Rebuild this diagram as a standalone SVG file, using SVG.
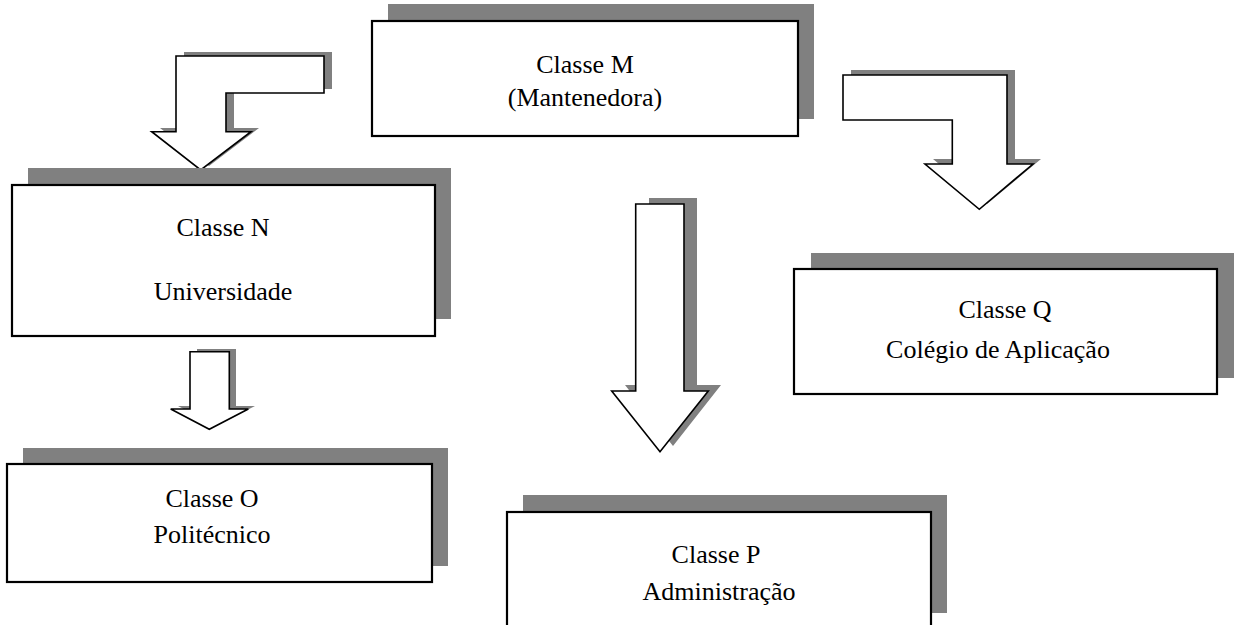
<svg xmlns="http://www.w3.org/2000/svg" width="1239" height="625" viewBox="0 0 1239 625">
<style>
.shadow{fill:#808080;stroke:none}
.box{fill:#ffffff;stroke:#000000;stroke-width:2.2}
.arrow{fill:#ffffff;stroke:#000000;stroke-width:1.6;stroke-linejoin:miter}
.label{font-family:"Liberation Serif","Times New Roman",serif;font-size:26px;fill:#000000;text-anchor:middle}
</style>
<rect width="1239" height="625" fill="#ffffff"/>
<g id="connectors">
  <g id="arrow-M-N">
    <path class="shadow" d="M184,52 H332 V89 H234 V128 H259 L209,166 L160,128 H184 Z"/>
    <path class="arrow" d="M176,56 H324 V93 H226 V131.7 H251 L200.7,170 L151.7,131.7 H176 Z"/>
  </g>
  <g id="arrow-M-Q">
    <path class="shadow" d="M851,70 H1015 V159 H1041 L987,204 L933,159 H960 V115 H851 Z"/>
    <path class="arrow" d="M843,75 H1007 V164 H1033 L979.3,209.3 L925,164 H952.3 V120 H843 Z"/>
  </g>
  <g id="arrow-M-P">
    <path class="shadow" d="M649,198 H697 V385 H721 L673,446 L625,385 H649 Z"/>
    <path class="arrow" d="M635.7,204 H684 V391 H708.3 L660,451.7 L611.7,391 H635.7 Z"/>
  </g>
  <g id="arrow-N-O">
    <path class="shadow" d="M197,349 H236 V406 H255 L216,426 L178,406 H197 Z"/>
    <path class="arrow" d="M190,351.7 H229.3 V409 H248.3 L209.3,429.3 L170.7,409 H190 Z"/>
  </g>
</g>
<g id="node-M">
  <rect class="shadow" x="388" y="4" width="426" height="115"/>
  <rect class="box" x="372" y="21" width="426" height="115"/>
  <text class="label" x="585" y="73">Classe M</text>
  <text class="label" x="585" y="106">(Mantenedora)</text>
</g>
<g id="node-N">
  <rect class="shadow" x="28" y="168" width="423" height="151"/>
  <rect class="box" x="12" y="185" width="423" height="151"/>
  <text class="label" x="223" y="236">Classe N</text>
  <text class="label" x="223" y="300">Universidade</text>
</g>
<g id="node-Q">
  <rect class="shadow" x="811" y="253" width="423" height="125"/>
  <rect class="box" x="794" y="269" width="423" height="125"/>
  <text class="label" x="1005" y="318">Classe Q</text>
  <text class="label" x="998" y="358">Colégio de Aplicação</text>
</g>
<g id="node-O">
  <rect class="shadow" x="23" y="448" width="425" height="118"/>
  <rect class="box" x="7" y="464" width="425" height="118"/>
  <text class="label" x="212" y="507">Classe O</text>
  <text class="label" x="212" y="543">Politécnico</text>
</g>
<g id="node-P">
  <rect class="shadow" x="523" y="495" width="424" height="118"/>
  <rect class="box" x="507" y="512" width="424" height="118"/>
  <text class="label" x="716" y="563">Classe P</text>
  <text class="label" x="719" y="600">Administração</text>
</g>
</svg>
